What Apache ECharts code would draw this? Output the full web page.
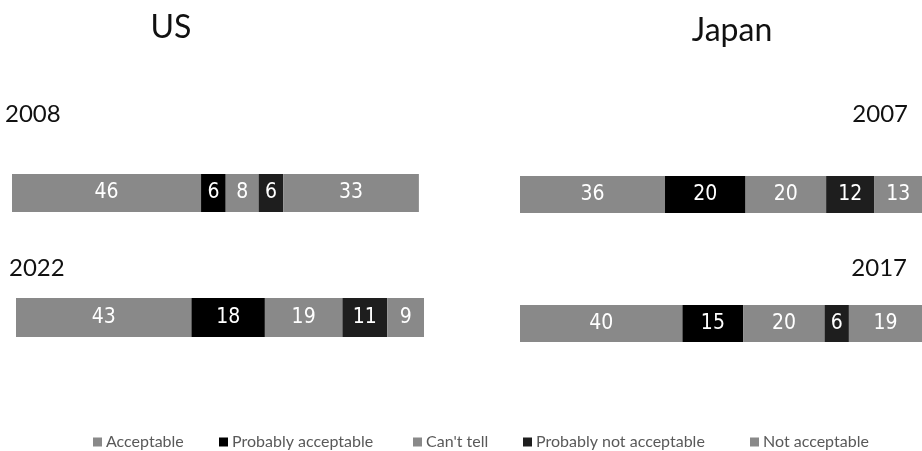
<!DOCTYPE html>
<html>
<head>
<meta charset="utf-8">
<script src="https://cdn.jsdelivr.net/npm/echarts@6/dist/echarts.min.js"></script>
<style>
  html, body { margin: 0; padding: 0; background: #ffffff; }
  #chart { width: 922px; height: 451px; }
</style>
</head>
<body>
<div id="chart"></div>
<script>
// Response categories, in stacking order
const categories = ['Acceptable', 'Probably acceptable', "Can't tell", 'Probably not acceptable', 'Not acceptable'];

// Survey years per country
const usYears = ['2008', '2022'];
const japanYears = ['2007', '2017'];

// Percentages per survey, one value per category
const us2008 = [46, 6, 8, 6, 33];
const us2022 = [43, 18, 19, 11, 9];
const japan2007 = [36, 20, 20, 12, 13];
const japan2017 = [40, 15, 20, 6, 19];

const colors = ['#898989', '#000000', '#898989', '#1e1e1e', '#898989'];
const labelFont = "'Liberation Sans Narrow', 'DejaVu Sans Condensed', 'Roboto Condensed', sans-serif";
const textFont = "Lato, 'Open Sans', sans-serif";

// One grid per bar so each bar can sit at its own spot.
// The Japan bars run past the right edge, so their grids end at the edge
// and the axis max is chosen to keep the same scale.
const panels = [
  { values: us2008,    grid: { left: 12,  top: 174, height: 38, width: 411 }, max: 100 },
  { values: us2022,    grid: { left: 16,  top: 298, height: 39, width: 408 }, max: 100 },
  { values: japan2007, grid: { left: 520, top: 176, height: 37, width: 402 }, max: 99.8 },
  { values: japan2017, grid: { left: 520, top: 305, height: 37, width: 402 }, max: 99 }
];

const grids = [], xAxes = [], yAxes = [], series = [];
panels.forEach((p, i) => {
  grids.push(Object.assign({ containLabel: false }, p.grid));
  xAxes.push({ type: 'value', gridIndex: i, min: 0, max: p.max, show: false });
  yAxes.push({ type: 'category', gridIndex: i, data: ['x'], show: false });
  categories.forEach((name, k) => {
    series.push({
      type: 'bar',
      name: name,
      stack: 'bar' + i,
      xAxisIndex: i,
      yAxisIndex: i,
      barWidth: '100%',
      clip: true,
      itemStyle: { color: colors[k] },
      label: {
        show: true,
        position: 'inside',
        color: '#ffffff',
        fontFamily: labelFont,
        fontSize: 21,
        formatter: '{c}'
      },
      emphasis: { disabled: true },
      data: [p.values[k]]
    });
  });
});

// Legend entries placed individually along the bottom
const legendLeft = [93, 219, 413, 523, 750];
const legends = categories.map((name, k) => ({
  data: [name],
  left: legendLeft[k],
  top: 434,
  icon: 'rect',
  itemWidth: 9,
  itemHeight: 9,
  itemGap: 5,
  padding: 0,
  selectedMode: false,
  textStyle: { color: '#595959', fontSize: 16, fontFamily: textFont, padding: [0, 0, 0, -1] }
}));

const headStyle = { fontSize: 32, fontWeight: 'normal', color: '#111', fontFamily: textFont };
const yearStyle = { fontSize: 24, fontWeight: 'normal', color: '#111', fontFamily: textFont };
const titles = [
  { text: 'US', left: 171, top: 12, padding: 0, textAlign: 'center', textStyle: headStyle },
  { text: 'Japan', left: 732, top: 15, padding: 0, textAlign: 'center', textStyle: headStyle },
  { text: usYears[0], left: 5, top: 102, padding: 0, textStyle: yearStyle },
  { text: usYears[1], left: 9, top: 256, padding: 0, textStyle: yearStyle },
  { text: japanYears[0], right: 14, top: 102, padding: 0, textStyle: yearStyle },
  { text: japanYears[1], right: 15, top: 256, padding: 0, textStyle: yearStyle }
];

const chart = echarts.init(document.getElementById('chart'), null, { renderer: 'canvas' });
chart.setOption({
  animation: false,
  backgroundColor: '#ffffff',
  title: titles,
  legend: legends,
  grid: grids,
  xAxis: xAxes,
  yAxis: yAxes,
  series: series
});
</script>
</body>
</html>
